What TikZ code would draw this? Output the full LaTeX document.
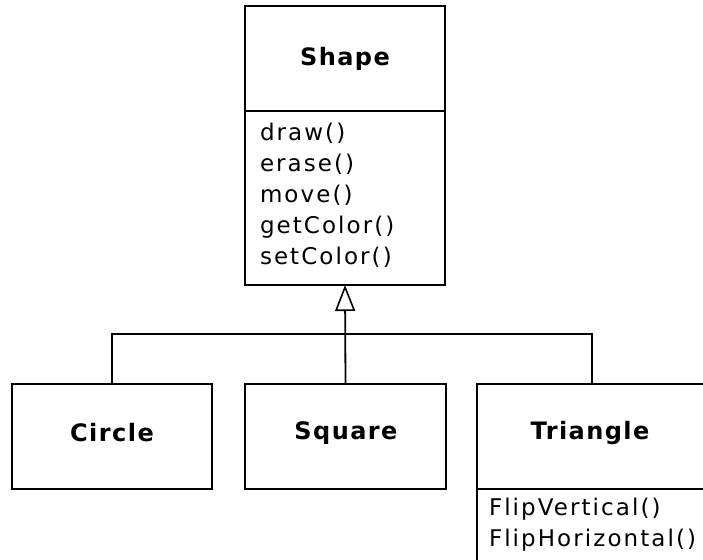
\documentclass[tikz,border=0pt]{standalone}
\usepackage{fontspec}
\setmainfont{DejaVu Sans}
\usetikzlibrary{arrows.meta}
\begin{document}
\begin{tikzpicture}[x=1pt,y=-1pt,
  every node/.style={inner sep=0pt, outer sep=0pt},
  classbox/.style={draw=black, line width=1.8pt, rectangle},
  title/.style={font=\fontsize{24}{31}\selectfont\bfseries\addfontfeature{LetterSpace=6}},
  op/.style={font=\fontsize{23}{31}\selectfont\addfontfeature{LetterSpace=9}, anchor=base west},
  link/.style={draw=black, line width=1.8pt}]
\fill[white] (0,0) rectangle (703,559);
\clip (0,0) rectangle (703,559);
\useasboundingbox (0,0) rectangle (703,559);
% class boxes
\node[classbox, minimum width=200pt, minimum height=279pt] (shape) at (345,145.5) {};
\node[classbox, minimum width=200pt, minimum height=105pt] (circle) at (112,436.5) {};
\node[classbox, minimum width=201pt, minimum height=105pt] (square) at (345.5,436.5) {};
\node[classbox, minimum width=230pt, minimum height=216pt] (triangle) at (592,492) {};
% compartments
\draw[link] (shape.west |- 0,111) -- (shape.east |- 0,111);
\draw[link] (triangle.west |- 0,489) -- (triangle.east |- 0,489);
% titles
\node[title] (shapet) at (345,59) {Shape};
\node[title] (circlet) at (112,433) {Circle};
\node[title] (squaret) at (346,433) {Square};
\node[title] (trianglet) at (590,433) {Triangle};
% operations
\node[op] (op1) at (260,140) {draw()};
\node[op] (op2) at (260,171) {erase()};
\node[op] (op3) at (260,202) {move()};
\node[op] (op4) at (260,233) {getColor()};
\node[op] (op5) at (260,264) {setColor()};
\node[op] (op6) at (489,515) {FlipVertical()};
\node[op] (op7) at (489,546) {FlipHorizontal()};
% generalization
\coordinate (bus) at (0,334);
\draw[link] (circle.north) |- (square.north |- bus) -| (triangle.north);
\draw[link, -{Triangle[open, width=20pt, length=26pt, line width=1.6pt]}] (square.north) -- (shape.south);
\end{tikzpicture}
\end{document}
